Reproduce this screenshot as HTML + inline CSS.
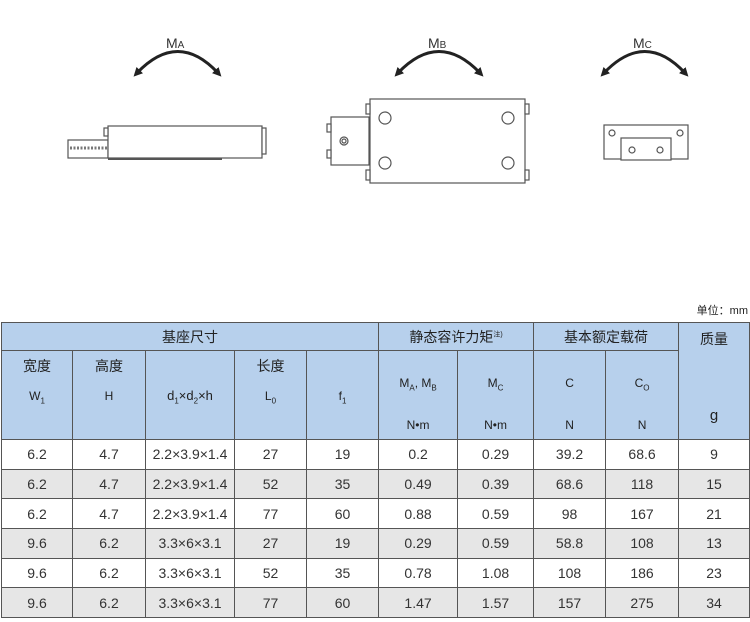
<!DOCTYPE html>
<html><head><meta charset="utf-8">
<style>
body{margin:0;width:750px;height:622px;background:#fff;position:relative;overflow:hidden;font-family:"Liberation Sans","Noto Sans CJK SC",sans-serif;}
svg{position:absolute;left:0;top:0}
.unit{position:absolute;right:2px;top:302px;font-size:11px;color:#222}
table{position:absolute;left:1px;top:322px;border-collapse:collapse;table-layout:fixed;width:748px}
td{border:1.5px solid #555;text-align:center;color:#333;font-size:14px;padding:0}
.h td{background:#b7d0ec;font-size:14px;color:#222}
.g td{background:#e6e6e6}
tr.d td{height:28.7px}
.s{font-size:12px}
.r2 td{vertical-align:top;position:relative}
.a{position:absolute;left:0;right:0;top:6px;line-height:18px}
.b{position:absolute;left:0;right:0;top:36px;line-height:18px}
.c{position:absolute;left:0;right:0;top:23px;line-height:18px}
.n{position:absolute;left:0;right:0;top:65px;line-height:18px}
</style></head><body>
<svg width="750" height="300" viewBox="0 0 750 300">
<defs><marker id="ar" markerUnits="userSpaceOnUse" markerWidth="9" markerHeight="9" refX="4" refY="4.5" orient="auto-start-reverse"><path d="M0,0 L9,4.5 L0,9 z" fill="#222"/></marker></defs>
<g fill="none" stroke="#222" stroke-width="3">
<path d="M137,73 Q178,30 218,73" marker-start="url(#ar)" marker-end="url(#ar)"/>
<path d="M398,73 Q439,30 480,73" marker-start="url(#ar)" marker-end="url(#ar)"/>
<path d="M604,73 Q645,30 685,73" marker-start="url(#ar)" marker-end="url(#ar)"/>
</g>
<g font-family="Liberation Sans" fill="#333"><text x="166" y="48" font-size="14">M<tspan font-size="10">A</tspan></text>
<text x="428" y="48" font-size="14">M<tspan font-size="10">B</tspan></text>
<text x="633" y="48" font-size="14">M<tspan font-size="10">C</tspan></text></g>
<g fill="#fff" stroke="#555" stroke-width="1.2">
<rect x="68" y="140" width="40" height="18"/>
<line x1="70" y1="148" x2="108" y2="148" stroke-dasharray="2,1.5" stroke-width="3" stroke="#777"/>
<rect x="108" y="126" width="154" height="32"/>
<line x1="108" y1="159" x2="222" y2="159" stroke-width="2"/>
<rect x="262" y="128" width="4" height="26"/>
<rect x="104" y="128" width="4" height="8"/>
<rect x="331" y="117" width="38" height="48"/>
<circle cx="344" cy="141" r="4"/><circle cx="344" cy="141" r="2"/>
<rect x="370" y="99" width="155" height="84"/>
<rect x="327" y="124" width="4" height="8"/><rect x="327" y="150" width="4" height="8"/>
<rect x="366" y="104" width="4" height="10"/><rect x="366" y="170" width="4" height="10"/>
<rect x="525" y="104" width="4" height="10"/><rect x="525" y="170" width="4" height="10"/>
<circle cx="385" cy="118" r="6"/><circle cx="508" cy="118" r="6"/>
<circle cx="385" cy="163" r="6"/><circle cx="508" cy="163" r="6"/>
<rect x="604" y="125" width="84" height="34"/>
<rect x="621" y="138" width="50" height="22"/>
<circle cx="612" cy="133" r="3"/><circle cx="680" cy="133" r="3"/>
<circle cx="632" cy="150" r="3"/><circle cx="660" cy="150" r="3"/>
</g>
</svg>
<div class="unit">单位：mm</div>
<table>
<colgroup><col style="width:71px"><col style="width:73px"><col style="width:89px"><col style="width:72px"><col style="width:72px"><col style="width:79px"><col style="width:76px"><col style="width:72px"><col style="width:73px"><col style="width:71px"></colgroup>
<tr class="h"><td colspan="5" style="height:27px">基座尺寸</td><td colspan="2">静态容许力矩<sup style="font-size:7px">注)</sup></td><td colspan="2">基本额定载荷</td><td rowspan="2" style="vertical-align:top;padding-top:6px">质量<div style="height:58px"></div><span style="font-size:15px">g</span></td></tr>
<tr class="h r2"><td style="height:88px"><div class="a">宽度</div><div class="b s">W<sub style="font-size:8px">1</sub></div></td><td><div class="a">高度</div><div class="b s">H</div></td><td><div class="b" style="font-size:13px">d<sub style="font-size:8px">1</sub>×d<sub style="font-size:8px">2</sub>×h</div></td><td><div class="a">长度</div><div class="b s">L<sub style="font-size:8px">0</sub></div></td><td><div class="b s">f<sub style="font-size:8px">1</sub></div></td>
<td><div class="c s">M<sub style="font-size:8px">A</sub>, M<sub style="font-size:8px">B</sub></div><div class="n s">N•m</div></td><td><div class="c s">M<sub style="font-size:8px">C</sub></div><div class="n s">N•m</div></td><td><div class="c s">C</div><div class="n s">N</div></td><td><div class="c s">C<sub style="font-size:8px">O</sub></div><div class="n s">N</div></td></tr>
<tr class="d"><td>6.2</td><td>4.7</td><td>2.2×3.9×1.4</td><td>27</td><td>19</td><td>0.2</td><td>0.29</td><td>39.2</td><td>68.6</td><td>9</td></tr>
<tr class="d g"><td>6.2</td><td>4.7</td><td>2.2×3.9×1.4</td><td>52</td><td>35</td><td>0.49</td><td>0.39</td><td>68.6</td><td>118</td><td>15</td></tr>
<tr class="d"><td>6.2</td><td>4.7</td><td>2.2×3.9×1.4</td><td>77</td><td>60</td><td>0.88</td><td>0.59</td><td>98</td><td>167</td><td>21</td></tr>
<tr class="d g"><td>9.6</td><td>6.2</td><td>3.3×6×3.1</td><td>27</td><td>19</td><td>0.29</td><td>0.59</td><td>58.8</td><td>108</td><td>13</td></tr>
<tr class="d"><td>9.6</td><td>6.2</td><td>3.3×6×3.1</td><td>52</td><td>35</td><td>0.78</td><td>1.08</td><td>108</td><td>186</td><td>23</td></tr>
<tr class="d g"><td>9.6</td><td>6.2</td><td>3.3×6×3.1</td><td>77</td><td>60</td><td>1.47</td><td>1.57</td><td>157</td><td>275</td><td>34</td></tr>
</table>
</body></html>
